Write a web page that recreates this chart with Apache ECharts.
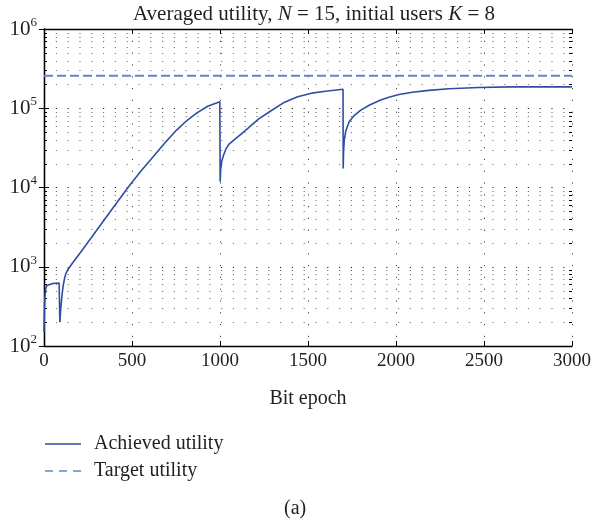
<!DOCTYPE html>
<html>
<head>
<meta charset="utf-8">
<script src="https://cdn.jsdelivr.net/npm/echarts@6/dist/echarts.min.js"></script>
<style>
  html, body { margin: 0; padding: 0; background: #fff; }
  #chart { width: 594px; height: 527px; }
</style>
</head>
<body>
<div id="chart"></div>
<script>
// Bit epoch positions and averaged achieved utility
const epochs = [0, 2, 5, 10, 16, 25, 50, 86, 88, 90, 93, 97, 102, 108, 116, 124, 137, 160, 204, 280, 355, 477, 550, 619, 690, 752, 810, 865, 930, 999,
  1001, 1004, 1010, 1020, 1035, 1050, 1080, 1120, 1158, 1220, 1290, 1360, 1441, 1520, 1600, 1699,
  1700, 1702, 1706, 1715, 1734, 1760, 1800, 1850, 1913, 1960, 2017, 2093, 2187, 2300, 2470, 2650, 2800, 3000];
const achieved = [150, 280, 420, 530, 580, 605, 615, 625, 620, 200, 250, 330, 430, 560, 700, 820, 930, 1100, 1480, 2520, 4270, 10000, 16000, 24300, 37200, 52700, 69500, 86000, 106000, 121000,
  11800, 17000, 21500, 25500, 31000, 35000, 40000, 47300, 55600, 73300, 93000, 117000, 140000, 155000, 164000, 174000,
  17400, 28000, 39500, 52000, 67500, 80000, 94700, 110000, 127000, 138000, 149000, 159000, 168000, 176000, 183000, 186000, 187000, 186000];

// Target utility level
const targetEpochs = [0, 3000];
const target = [258000, 258000];

// Axis ticks
const xTicks = [0, 500, 1000, 1500, 2000, 2500, 3000];
const yDecades = [100, 1000, 10000, 100000, 1000000];

const serif = '"Liberation Serif", "DejaVu Serif", serif';
const ink = '#231f20';
const solidBlue = '#2f4ea2';
const dashBlue = '#6a82c6';

const pairs = (xs, ys) => xs.map((x, i) => [x, ys[i]]);

const chart = echarts.init(document.getElementById('chart'), null, { renderer: 'canvas' });

const dotted = [1.2, 10.6];

// Legend keys: a plain stroke and a three-dash stroke
const solidKey = 'path://M0,0L36,0L36,1.6L0,1.6Z';
const dashedKey = 'path://M0,0L8,0L8,1.6L0,1.6ZM14,0L22,0L22,1.6L14,1.6ZM28,0L36,0L36,1.6L28,1.6Z';

const option = {
  animation: false,
  backgroundColor: '#fff',
  title: {
    text: 'Averaged utility, {i|N} = 15, initial users {i|K} = 8',
    left: 309, top: -1, textAlign: 'center',
    textStyle: {
      fontFamily: serif, fontSize: 21, fontWeight: 'normal', color: ink,
      rich: { i: { fontFamily: serif, fontSize: 21, fontStyle: 'italic', color: ink } }
    }
  },
  grid: { left: 44, right: 21, top: 29, bottom: 181 },
  legend: {
    orient: 'vertical', left: 40, top: 429,
    itemWidth: 36, itemHeight: 2, itemGap: 7,
    textStyle: { fontFamily: serif, fontSize: 20, color: ink, padding: [0, 0, 0, 8] },
    data: [
      { name: 'Achieved utility', icon: solidKey, itemStyle: { color: solidBlue } },
      { name: 'Target utility', icon: dashedKey, itemStyle: { color: dashBlue } }
    ]
  },
  xAxis: [{
    type: 'value', min: 0, max: 3000, interval: 500,
    name: 'Bit epoch', nameLocation: 'middle', nameGap: 43,
    nameTextStyle: { fontFamily: serif, fontSize: 20, color: ink },
    axisLine: { lineStyle: { color: '#000', width: 1.3 } },
    axisTick: { inside: true, length: 5, lineStyle: { color: '#000' } },
    axisLabel: { fontFamily: serif, fontSize: 19, color: ink, margin: 6, formatter: v => String(v) },
    splitLine: { show: true, lineStyle: { color: '#444', width: 1, type: dotted } }
  }, {
    type: 'value', min: 0, max: 3000, interval: 500, position: 'top',
    axisLine: { lineStyle: { color: '#000', width: 1.3 } },
    axisTick: { inside: true, length: 5, lineStyle: { color: '#000' } },
    axisLabel: { show: false }, splitLine: { show: false }
  }],
  yAxis: [{
    type: 'log', logBase: 10, min: 100, max: 1000000,
    axisLine: { show: true, lineStyle: { color: '#000', width: 1.3 } },
    axisTick: { inside: true, length: 5, lineStyle: { color: '#000' } },
    axisLabel: {
      margin: 7, align: 'right',
      formatter: v => '{b|10}{s|' + Math.round(Math.log10(v)) + '}',
      rich: {
        b: { fontFamily: serif, fontSize: 21, color: ink, lineHeight: 26, verticalAlign: 'middle' },
        s: { fontFamily: serif, fontSize: 13, color: ink, lineHeight: 26, verticalAlign: 'top' }
      }
    },
    splitLine: { show: true, lineStyle: { color: '#222', width: 1, type: dotted } }
  }, {
    type: 'log', logBase: 10, min: 100, max: 1000000, position: 'right',
    axisLine: { show: true, lineStyle: { color: '#000', width: 1.3 } },
    axisTick: { inside: true, length: 5, lineStyle: { color: '#000' } },
    axisLabel: { show: false }, splitLine: { show: false }
  }],
  series: [{
    name: 'Achieved utility', type: 'line', symbol: 'none',
    data: pairs(epochs, achieved),
    lineStyle: { color: solidBlue, width: 1.6 },
    itemStyle: { color: solidBlue }, z: 5
  }, {
    name: 'Target utility', type: 'line', symbol: 'none',
    data: pairs(targetEpochs, target),
    lineStyle: { color: dashBlue, width: 2, type: [9, 4] },
    itemStyle: { color: dashBlue }, z: 4
  }],
  graphic: [{
    type: 'text', left: 284, top: 499,
    style: { text: '(a)', font: '20px ' + serif, fill: ink }
  }]
};

chart.setOption(option);

// Minor log grid lines and minor ticks at 2..9 within each decade
function drawMinorGrid() {
  const minorValues = [];
  for (let d = 0; d < yDecades.length - 1; d++) {
    for (let m = 2; m <= 9; m++) minorValues.push(yDecades[d] * m);
  }
  const xl = chart.convertToPixel({ xAxisIndex: 0 }, 0);
  const xr = chart.convertToPixel({ xAxisIndex: 0 }, 3000);
  const els = [];
  minorValues.forEach(v => {
    const y = Math.round(chart.convertToPixel({ yAxisIndex: 0 }, v)) + 0.5;
    els.push({
      type: 'line', z: 1, silent: true,
      shape: { x1: xl, y1: y, x2: xr, y2: y },
      style: { stroke: '#777', lineWidth: 1, lineDash: dotted }
    });
    els.push({
      type: 'line', z: 3, silent: true,
      shape: { x1: xl, y1: y, x2: xl + 3, y2: y },
      style: { stroke: '#000', lineWidth: 1 }
    });
    els.push({
      type: 'line', z: 3, silent: true,
      shape: { x1: xr - 3, y1: y, x2: xr, y2: y },
      style: { stroke: '#000', lineWidth: 1 }
    });
  });
  chart.setOption({ graphic: option.graphic.concat(els) });
}
drawMinorGrid();
</script>
</body>
</html>
